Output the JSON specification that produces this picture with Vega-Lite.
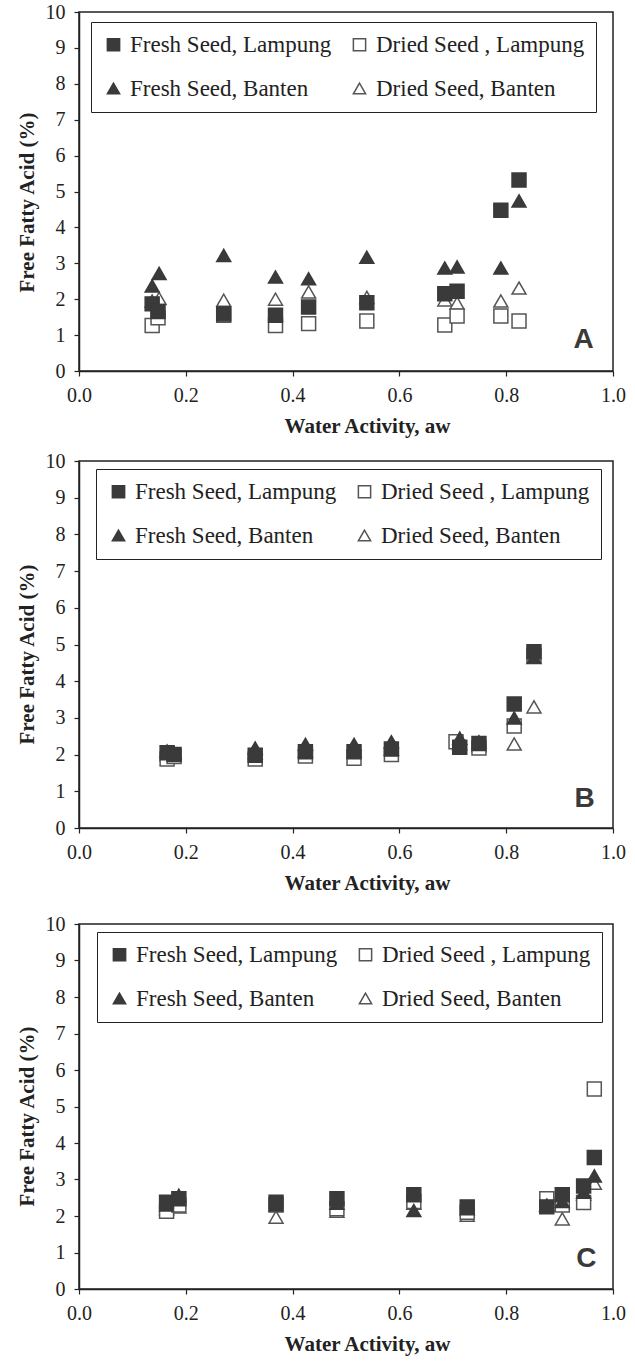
{
  "$schema": "https://vega.github.io/schema/vega-lite/v6.json",
  "background": "white",
  "padding": {"left": 15, "top": 1, "right": 5, "bottom": 5},
  "config": {
    "view": {"stroke": "#222", "strokeWidth": 1.5},
    "font": "Liberation Serif",
    "axis": {
      "domainColor": "#222", "domainWidth": 1.5, "tickColor": "#222", "tickWidth": 1.2, "tickSize": 5,
      "labelFont": "Liberation Serif", "labelFontSize": 20, "labelColor": "#222",
      "titleFont": "Liberation Serif", "titleFontSize": 21, "titleFontWeight": "bold", "titleColor": "#222",
      "grid": false
    },
    "axisX": {"labelFlush": false, "labelPadding": 9, "titlePadding": 10, "titleX": 288},
    "axisY": {"labelPadding": 9, "titlePadding": 8}
  },
  "datasets": {
    "A": [
      {"aw": 0.137, "ffa": 1.95, "s": "Dried Seed, Banten"},
      {"aw": 0.150, "ffa": 2.02, "s": "Dried Seed, Banten"},
      {"aw": 0.271, "ffa": 1.97, "s": "Dried Seed, Banten"},
      {"aw": 0.368, "ffa": 2.00, "s": "Dried Seed, Banten"},
      {"aw": 0.430, "ffa": 2.20, "s": "Dried Seed, Banten"},
      {"aw": 0.539, "ffa": 2.05, "s": "Dried Seed, Banten"},
      {"aw": 0.685, "ffa": 1.98, "s": "Dried Seed, Banten"},
      {"aw": 0.708, "ffa": 1.89, "s": "Dried Seed, Banten"},
      {"aw": 0.790, "ffa": 1.95, "s": "Dried Seed, Banten"},
      {"aw": 0.824, "ffa": 2.31, "s": "Dried Seed, Banten"},
      {"aw": 0.137, "ffa": 1.27, "s": "Dried Seed , Lampung"},
      {"aw": 0.148, "ffa": 1.48, "s": "Dried Seed , Lampung"},
      {"aw": 0.271, "ffa": 1.55, "s": "Dried Seed , Lampung"},
      {"aw": 0.368, "ffa": 1.27, "s": "Dried Seed , Lampung"},
      {"aw": 0.430, "ffa": 1.32, "s": "Dried Seed , Lampung"},
      {"aw": 0.539, "ffa": 1.39, "s": "Dried Seed , Lampung"},
      {"aw": 0.685, "ffa": 1.28, "s": "Dried Seed , Lampung"},
      {"aw": 0.708, "ffa": 1.53, "s": "Dried Seed , Lampung"},
      {"aw": 0.790, "ffa": 1.53, "s": "Dried Seed , Lampung"},
      {"aw": 0.824, "ffa": 1.39, "s": "Dried Seed , Lampung"},
      {"aw": 0.137, "ffa": 2.37, "s": "Fresh Seed, Banten"},
      {"aw": 0.150, "ffa": 2.72, "s": "Fresh Seed, Banten"},
      {"aw": 0.271, "ffa": 3.22, "s": "Fresh Seed, Banten"},
      {"aw": 0.368, "ffa": 2.62, "s": "Fresh Seed, Banten"},
      {"aw": 0.430, "ffa": 2.57, "s": "Fresh Seed, Banten"},
      {"aw": 0.539, "ffa": 3.17, "s": "Fresh Seed, Banten"},
      {"aw": 0.685, "ffa": 2.87, "s": "Fresh Seed, Banten"},
      {"aw": 0.708, "ffa": 2.90, "s": "Fresh Seed, Banten"},
      {"aw": 0.790, "ffa": 2.87, "s": "Fresh Seed, Banten"},
      {"aw": 0.824, "ffa": 4.74, "s": "Fresh Seed, Banten"},
      {"aw": 0.137, "ffa": 1.87, "s": "Fresh Seed, Lampung"},
      {"aw": 0.148, "ffa": 1.66, "s": "Fresh Seed, Lampung"},
      {"aw": 0.271, "ffa": 1.59, "s": "Fresh Seed, Lampung"},
      {"aw": 0.368, "ffa": 1.55, "s": "Fresh Seed, Lampung"},
      {"aw": 0.430, "ffa": 1.78, "s": "Fresh Seed, Lampung"},
      {"aw": 0.539, "ffa": 1.90, "s": "Fresh Seed, Lampung"},
      {"aw": 0.685, "ffa": 2.15, "s": "Fresh Seed, Lampung"},
      {"aw": 0.708, "ffa": 2.22, "s": "Fresh Seed, Lampung"},
      {"aw": 0.790, "ffa": 4.48, "s": "Fresh Seed, Lampung"},
      {"aw": 0.824, "ffa": 5.32, "s": "Fresh Seed, Lampung"}
    ],
    "B": [
      {"aw": 0.165, "ffa": 2.00, "s": "Dried Seed, Banten"},
      {"aw": 0.178, "ffa": 2.00, "s": "Dried Seed, Banten"},
      {"aw": 0.330, "ffa": 2.05, "s": "Dried Seed, Banten"},
      {"aw": 0.424, "ffa": 2.10, "s": "Dried Seed, Banten"},
      {"aw": 0.515, "ffa": 2.10, "s": "Dried Seed, Banten"},
      {"aw": 0.585, "ffa": 2.15, "s": "Dried Seed, Banten"},
      {"aw": 0.713, "ffa": 2.30, "s": "Dried Seed, Banten"},
      {"aw": 0.749, "ffa": 2.25, "s": "Dried Seed, Banten"},
      {"aw": 0.815, "ffa": 2.29, "s": "Dried Seed, Banten"},
      {"aw": 0.852, "ffa": 3.30, "s": "Dried Seed, Banten"},
      {"aw": 0.165, "ffa": 1.88, "s": "Dried Seed , Lampung"},
      {"aw": 0.178, "ffa": 1.95, "s": "Dried Seed , Lampung"},
      {"aw": 0.330, "ffa": 1.88, "s": "Dried Seed , Lampung"},
      {"aw": 0.424, "ffa": 1.96, "s": "Dried Seed , Lampung"},
      {"aw": 0.515, "ffa": 1.90, "s": "Dried Seed , Lampung"},
      {"aw": 0.585, "ffa": 2.00, "s": "Dried Seed , Lampung"},
      {"aw": 0.706, "ffa": 2.35, "s": "Dried Seed , Lampung"},
      {"aw": 0.749, "ffa": 2.18, "s": "Dried Seed , Lampung"},
      {"aw": 0.815, "ffa": 2.78, "s": "Dried Seed , Lampung"},
      {"aw": 0.852, "ffa": 4.70, "s": "Dried Seed , Lampung"},
      {"aw": 0.165, "ffa": 2.10, "s": "Fresh Seed, Banten"},
      {"aw": 0.178, "ffa": 2.05, "s": "Fresh Seed, Banten"},
      {"aw": 0.330, "ffa": 2.18, "s": "Fresh Seed, Banten"},
      {"aw": 0.424, "ffa": 2.28, "s": "Fresh Seed, Banten"},
      {"aw": 0.515, "ffa": 2.28, "s": "Fresh Seed, Banten"},
      {"aw": 0.585, "ffa": 2.35, "s": "Fresh Seed, Banten"},
      {"aw": 0.713, "ffa": 2.45, "s": "Fresh Seed, Banten"},
      {"aw": 0.749, "ffa": 2.35, "s": "Fresh Seed, Banten"},
      {"aw": 0.815, "ffa": 3.00, "s": "Fresh Seed, Banten"},
      {"aw": 0.852, "ffa": 4.65, "s": "Fresh Seed, Banten"},
      {"aw": 0.165, "ffa": 2.05, "s": "Fresh Seed, Lampung"},
      {"aw": 0.178, "ffa": 2.00, "s": "Fresh Seed, Lampung"},
      {"aw": 0.330, "ffa": 1.98, "s": "Fresh Seed, Lampung"},
      {"aw": 0.424, "ffa": 2.08, "s": "Fresh Seed, Lampung"},
      {"aw": 0.515, "ffa": 2.08, "s": "Fresh Seed, Lampung"},
      {"aw": 0.585, "ffa": 2.15, "s": "Fresh Seed, Lampung"},
      {"aw": 0.713, "ffa": 2.20, "s": "Fresh Seed, Lampung"},
      {"aw": 0.749, "ffa": 2.30, "s": "Fresh Seed, Lampung"},
      {"aw": 0.815, "ffa": 3.38, "s": "Fresh Seed, Lampung"},
      {"aw": 0.852, "ffa": 4.80, "s": "Fresh Seed, Lampung"}
    ],
    "C": [
      {"aw": 0.164, "ffa": 2.20, "s": "Dried Seed, Banten"},
      {"aw": 0.187, "ffa": 2.25, "s": "Dried Seed, Banten"},
      {"aw": 0.369, "ffa": 1.97, "s": "Dried Seed, Banten"},
      {"aw": 0.483, "ffa": 2.13, "s": "Dried Seed, Banten"},
      {"aw": 0.627, "ffa": 2.35, "s": "Dried Seed, Banten"},
      {"aw": 0.727, "ffa": 2.02, "s": "Dried Seed, Banten"},
      {"aw": 0.876, "ffa": 2.30, "s": "Dried Seed, Banten"},
      {"aw": 0.905, "ffa": 1.92, "s": "Dried Seed, Banten"},
      {"aw": 0.945, "ffa": 2.60, "s": "Dried Seed, Banten"},
      {"aw": 0.965, "ffa": 2.90, "s": "Dried Seed, Banten"},
      {"aw": 0.164, "ffa": 2.13, "s": "Dried Seed , Lampung"},
      {"aw": 0.187, "ffa": 2.30, "s": "Dried Seed , Lampung"},
      {"aw": 0.369, "ffa": 2.30, "s": "Dried Seed , Lampung"},
      {"aw": 0.483, "ffa": 2.20, "s": "Dried Seed , Lampung"},
      {"aw": 0.627, "ffa": 2.40, "s": "Dried Seed , Lampung"},
      {"aw": 0.727, "ffa": 2.10, "s": "Dried Seed , Lampung"},
      {"aw": 0.876, "ffa": 2.47, "s": "Dried Seed , Lampung"},
      {"aw": 0.905, "ffa": 2.30, "s": "Dried Seed , Lampung"},
      {"aw": 0.945, "ffa": 2.37, "s": "Dried Seed , Lampung"},
      {"aw": 0.965, "ffa": 5.48, "s": "Dried Seed , Lampung"},
      {"aw": 0.164, "ffa": 2.30, "s": "Fresh Seed, Banten"},
      {"aw": 0.187, "ffa": 2.57, "s": "Fresh Seed, Banten"},
      {"aw": 0.369, "ffa": 2.30, "s": "Fresh Seed, Banten"},
      {"aw": 0.483, "ffa": 2.35, "s": "Fresh Seed, Banten"},
      {"aw": 0.627, "ffa": 2.15, "s": "Fresh Seed, Banten"},
      {"aw": 0.727, "ffa": 2.20, "s": "Fresh Seed, Banten"},
      {"aw": 0.876, "ffa": 2.30, "s": "Fresh Seed, Banten"},
      {"aw": 0.905, "ffa": 2.40, "s": "Fresh Seed, Banten"},
      {"aw": 0.945, "ffa": 2.65, "s": "Fresh Seed, Banten"},
      {"aw": 0.965, "ffa": 3.10, "s": "Fresh Seed, Banten"},
      {"aw": 0.164, "ffa": 2.38, "s": "Fresh Seed, Lampung"},
      {"aw": 0.187, "ffa": 2.47, "s": "Fresh Seed, Lampung"},
      {"aw": 0.369, "ffa": 2.38, "s": "Fresh Seed, Lampung"},
      {"aw": 0.483, "ffa": 2.47, "s": "Fresh Seed, Lampung"},
      {"aw": 0.627, "ffa": 2.58, "s": "Fresh Seed, Lampung"},
      {"aw": 0.727, "ffa": 2.25, "s": "Fresh Seed, Lampung"},
      {"aw": 0.876, "ffa": 2.25, "s": "Fresh Seed, Lampung"},
      {"aw": 0.905, "ffa": 2.58, "s": "Fresh Seed, Lampung"},
      {"aw": 0.945, "ffa": 2.82, "s": "Fresh Seed, Lampung"},
      {"aw": 0.965, "ffa": 3.60, "s": "Fresh Seed, Lampung"}
    ],
    "labA": [{"aw": 0.945, "ffa": 0.85, "t": "A"}],
    "labB": [{"aw": 0.947, "ffa": 0.80, "t": "B"}],
    "labC": [{"aw": 0.950, "ffa": 0.82, "t": "C"}]
  },
  "spacing": 90,
  "bounds": "flush",
  "resolve": {
    "scale": {"shape": "independent", "fill": "independent", "stroke": "independent"}
  },
  "vconcat": [
    {
      "width": 534, "height": 359,
      "layer": [
        {
          "data": {"name": "A"},
          "mark": {"type": "point", "filled": false, "opacity": 1, "strokeWidth": 1.5, "size": 195},
          "encoding": {
            "x": {"field": "aw", "type": "quantitative", "scale": {"domain": [0, 1]}, "axis": {"values": [0, 0.2, 0.4, 0.6, 0.8, 1], "format": ".1f", "labelOverlap": false, "title": "Water Activity, aw"}},
            "y": {"field": "ffa", "type": "quantitative", "scale": {"domain": [0, 10]}, "axis": {"values": [0, 1, 2, 3, 4, 5, 6, 7, 8, 9, 10], "format": "d", "labelOverlap": false, "titleY": 190, "title": "Free Fatty Acid (%)"}},
            "shape": {"field": "s", "type": "nominal", "scale": {"domain": ["Fresh Seed, Lampung", "Dried Seed , Lampung", "Fresh Seed, Banten", "Dried Seed, Banten"], "range": ["square", "square", "triangle-up", "triangle-up"]}, "legend": {"title": null, "orient": "none", "legendX": 12, "legendY": 10, "columns": 2, "direction": "horizontal", "labelFont": "Liberation Serif", "labelFontSize": 23, "labelColor": "#222", "labelLimit": 400, "symbolSize": 150, "symbolStrokeWidth": 1.5, "rowPadding": 20, "columnPadding": 16, "labelOffset": 5, "padding": 11, "strokeColor": "#222", "fillColor": "white"}},
            "fill": {"field": "s", "type": "nominal", "scale": {"domain": ["Fresh Seed, Lampung", "Dried Seed , Lampung", "Fresh Seed, Banten", "Dried Seed, Banten"], "range": ["#3a3a3a", "#ffffff", "#3a3a3a", "#ffffff"]}, "legend": {"title": null, "orient": "none", "legendX": 12, "legendY": 10, "columns": 2, "direction": "horizontal", "labelFont": "Liberation Serif", "labelFontSize": 23, "labelColor": "#222", "labelLimit": 400, "symbolSize": 150, "symbolStrokeWidth": 1.5, "rowPadding": 20, "columnPadding": 16, "labelOffset": 5, "padding": 11, "strokeColor": "#222", "fillColor": "white"}},
            "stroke": {"field": "s", "type": "nominal", "scale": {"domain": ["Fresh Seed, Lampung", "Dried Seed , Lampung", "Fresh Seed, Banten", "Dried Seed, Banten"], "range": ["#3a3a3a", "#555555", "#3a3a3a", "#555555"]}, "legend": {"title": null, "orient": "none", "legendX": 12, "legendY": 10, "columns": 2, "direction": "horizontal", "labelFont": "Liberation Serif", "labelFontSize": 23, "labelColor": "#222", "labelLimit": 400, "symbolSize": 150, "symbolStrokeWidth": 1.5, "rowPadding": 20, "columnPadding": 16, "labelOffset": 5, "padding": 11, "strokeColor": "#222", "fillColor": "white"}}
          }
        },
        {
          "data": {"name": "labA"},
          "mark": {"type": "text", "font": "Liberation Sans", "fontWeight": "bold", "fontSize": 28, "color": "#3a3a3a"},
          "encoding": {
            "x": {"field": "aw", "type": "quantitative", "scale": {"domain": [0, 1]}, "axis": {"values": [0, 0.2, 0.4, 0.6, 0.8, 1], "format": ".1f", "labelOverlap": false, "title": "Water Activity, aw"}},
            "y": {"field": "ffa", "type": "quantitative", "scale": {"domain": [0, 10]}, "axis": {"values": [0, 1, 2, 3, 4, 5, 6, 7, 8, 9, 10], "format": "d", "labelOverlap": false, "titleY": 190, "title": "Free Fatty Acid (%)"}},
            "text": {"field": "t"}
          }
        }
      ]
    },
    {
      "spacing": 96,
      "bounds": "flush",
      "resolve": {
        "scale": {"shape": "independent", "fill": "independent", "stroke": "independent"}
      },
      "vconcat": [
        {
          "width": 534, "height": 367,
          "layer": [
            {
              "data": {"name": "B"},
              "mark": {"type": "point", "filled": false, "opacity": 1, "strokeWidth": 1.5, "size": 195},
              "encoding": {
                "x": {"field": "aw", "type": "quantitative", "scale": {"domain": [0, 1]}, "axis": {"values": [0, 0.2, 0.4, 0.6, 0.8, 1], "format": ".1f", "labelOverlap": false, "title": "Water Activity, aw"}},
                "y": {"field": "ffa", "type": "quantitative", "scale": {"domain": [0, 10]}, "axis": {"values": [0, 1, 2, 3, 4, 5, 6, 7, 8, 9, 10], "format": "d", "labelOverlap": false, "titleY": 193, "title": "Free Fatty Acid (%)"}},
                "shape": {"field": "s", "type": "nominal", "scale": {"domain": ["Fresh Seed, Lampung", "Dried Seed , Lampung", "Fresh Seed, Banten", "Dried Seed, Banten"], "range": ["square", "square", "triangle-up", "triangle-up"]}, "legend": {"title": null, "orient": "none", "legendX": 17, "legendY": 8, "columns": 2, "direction": "horizontal", "labelFont": "Liberation Serif", "labelFontSize": 23, "labelColor": "#222", "labelLimit": 400, "symbolSize": 150, "symbolStrokeWidth": 1.5, "rowPadding": 20, "columnPadding": 16, "labelOffset": 5, "padding": 11, "strokeColor": "#222", "fillColor": "white"}},
                "fill": {"field": "s", "type": "nominal", "scale": {"domain": ["Fresh Seed, Lampung", "Dried Seed , Lampung", "Fresh Seed, Banten", "Dried Seed, Banten"], "range": ["#3a3a3a", "#ffffff", "#3a3a3a", "#ffffff"]}, "legend": {"title": null, "orient": "none", "legendX": 17, "legendY": 8, "columns": 2, "direction": "horizontal", "labelFont": "Liberation Serif", "labelFontSize": 23, "labelColor": "#222", "labelLimit": 400, "symbolSize": 150, "symbolStrokeWidth": 1.5, "rowPadding": 20, "columnPadding": 16, "labelOffset": 5, "padding": 11, "strokeColor": "#222", "fillColor": "white"}},
                "stroke": {"field": "s", "type": "nominal", "scale": {"domain": ["Fresh Seed, Lampung", "Dried Seed , Lampung", "Fresh Seed, Banten", "Dried Seed, Banten"], "range": ["#3a3a3a", "#555555", "#3a3a3a", "#555555"]}, "legend": {"title": null, "orient": "none", "legendX": 17, "legendY": 8, "columns": 2, "direction": "horizontal", "labelFont": "Liberation Serif", "labelFontSize": 23, "labelColor": "#222", "labelLimit": 400, "symbolSize": 150, "symbolStrokeWidth": 1.5, "rowPadding": 20, "columnPadding": 16, "labelOffset": 5, "padding": 11, "strokeColor": "#222", "fillColor": "white"}}
              }
            },
            {
              "data": {"name": "labB"},
              "mark": {"type": "text", "font": "Liberation Sans", "fontWeight": "bold", "fontSize": 28, "color": "#3a3a3a"},
              "encoding": {
                "x": {"field": "aw", "type": "quantitative", "scale": {"domain": [0, 1]}, "axis": {"values": [0, 0.2, 0.4, 0.6, 0.8, 1], "format": ".1f", "labelOverlap": false, "title": "Water Activity, aw"}},
                "y": {"field": "ffa", "type": "quantitative", "scale": {"domain": [0, 10]}, "axis": {"values": [0, 1, 2, 3, 4, 5, 6, 7, 8, 9, 10], "format": "d", "labelOverlap": false, "titleY": 193, "title": "Free Fatty Acid (%)"}},
                "text": {"field": "t"}
              }
            }
          ]
        },
        {
          "width": 534, "height": 365,
          "layer": [
            {
              "data": {"name": "C"},
              "mark": {"type": "point", "filled": false, "opacity": 1, "strokeWidth": 1.5, "size": 195},
              "encoding": {
                "x": {"field": "aw", "type": "quantitative", "scale": {"domain": [0, 1]}, "axis": {"values": [0, 0.2, 0.4, 0.6, 0.8, 1], "format": ".1f", "labelOverlap": false, "title": "Water Activity, aw"}},
                "y": {"field": "ffa", "type": "quantitative", "scale": {"domain": [0, 10]}, "axis": {"values": [0, 1, 2, 3, 4, 5, 6, 7, 8, 9, 10], "format": "d", "labelOverlap": false, "titleY": 192, "title": "Free Fatty Acid (%)"}},
                "shape": {"field": "s", "type": "nominal", "scale": {"domain": ["Fresh Seed, Lampung", "Dried Seed , Lampung", "Fresh Seed, Banten", "Dried Seed, Banten"], "range": ["square", "square", "triangle-up", "triangle-up"]}, "legend": {"title": null, "orient": "none", "legendX": 18, "legendY": 8, "columns": 2, "direction": "horizontal", "labelFont": "Liberation Serif", "labelFontSize": 23, "labelColor": "#222", "labelLimit": 400, "symbolSize": 150, "symbolStrokeWidth": 1.5, "rowPadding": 20, "columnPadding": 16, "labelOffset": 5, "padding": 11, "strokeColor": "#222", "fillColor": "white"}},
                "fill": {"field": "s", "type": "nominal", "scale": {"domain": ["Fresh Seed, Lampung", "Dried Seed , Lampung", "Fresh Seed, Banten", "Dried Seed, Banten"], "range": ["#3a3a3a", "#ffffff", "#3a3a3a", "#ffffff"]}, "legend": {"title": null, "orient": "none", "legendX": 18, "legendY": 8, "columns": 2, "direction": "horizontal", "labelFont": "Liberation Serif", "labelFontSize": 23, "labelColor": "#222", "labelLimit": 400, "symbolSize": 150, "symbolStrokeWidth": 1.5, "rowPadding": 20, "columnPadding": 16, "labelOffset": 5, "padding": 11, "strokeColor": "#222", "fillColor": "white"}},
                "stroke": {"field": "s", "type": "nominal", "scale": {"domain": ["Fresh Seed, Lampung", "Dried Seed , Lampung", "Fresh Seed, Banten", "Dried Seed, Banten"], "range": ["#3a3a3a", "#555555", "#3a3a3a", "#555555"]}, "legend": {"title": null, "orient": "none", "legendX": 18, "legendY": 8, "columns": 2, "direction": "horizontal", "labelFont": "Liberation Serif", "labelFontSize": 23, "labelColor": "#222", "labelLimit": 400, "symbolSize": 150, "symbolStrokeWidth": 1.5, "rowPadding": 20, "columnPadding": 16, "labelOffset": 5, "padding": 11, "strokeColor": "#222", "fillColor": "white"}}
              }
            },
            {
              "data": {"name": "labC"},
              "mark": {"type": "text", "font": "Liberation Sans", "fontWeight": "bold", "fontSize": 28, "color": "#3a3a3a"},
              "encoding": {
                "x": {"field": "aw", "type": "quantitative", "scale": {"domain": [0, 1]}, "axis": {"values": [0, 0.2, 0.4, 0.6, 0.8, 1], "format": ".1f", "labelOverlap": false, "title": "Water Activity, aw"}},
                "y": {"field": "ffa", "type": "quantitative", "scale": {"domain": [0, 10]}, "axis": {"values": [0, 1, 2, 3, 4, 5, 6, 7, 8, 9, 10], "format": "d", "labelOverlap": false, "titleY": 192, "title": "Free Fatty Acid (%)"}},
                "text": {"field": "t"}
              }
            }
          ]
        }
      ]
    }
  ]
}
